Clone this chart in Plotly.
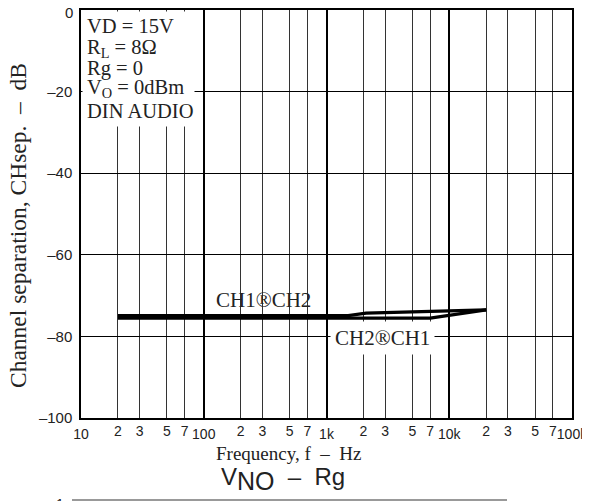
import plotly.graph_objects as go

# data
freq_ch1 = [20, 1500, 2100, 20000]
sep_ch1 = [-74.9, -74.9, -74.3, -73.5]
freq_ch2 = [20, 7000, 20000]
sep_ch2 = [-75.5, -75.5, -73.5]

minor_vals = [m * d for d in (10, 100, 1000, 10000) for m in (2, 3, 5, 7)]
minor_text = [str(m) for d in (10, 100, 1000, 10000) for m in (2, 3, 5, 7)]
decade_vals = [10, 100, 1000, 10000, 100000]
decade_text = ["10", "100", "1k", "10k", "100k"]
y_vals = [0, -20, -40, -60, -80, -100]
# the top "0" sits a little below its line in the reference, drawn separately below
y_text = ["", "\u201320", "\u201340", "\u201360", "\u201380", "\u2013100"]

conditions = ["VD = 15V", "R<sub>L</sub> = 8\u03a9", "Rg = 0",
              "V<sub>O</sub> = 0dBm", "DIN AUDIO"]

SANS = "Liberation Sans, Arial, sans-serif"
SERIF = "Liberation Serif, Times New Roman, serif"

# the page adds an 8px body margin, so the figure is 8px smaller than the window
W, H, OFF = 582, 493, 8
# plot area in page pixels: x 81..572, y 10..418
L, R, T, B = 81, 572, 10, 418
def px(x):
    return (x - L) / (R - L)
def py(y):
    return (B - y) / (B - T)

def note(text, x, y, **kw):
    kw.setdefault("xanchor", "center")
    kw.setdefault("yanchor", "middle")
    fig.add_annotation(text=text, xref="paper", yref="paper", x=px(x), y=py(y),
                       showarrow=False, **kw)

fig = go.Figure()
fig.add_trace(go.Scatter(x=freq_ch1, y=sep_ch1, mode="lines",
                         line=dict(color="black", width=3.2), showlegend=False))
# second curve sits on the decade axis (same range) so that axis gets drawn
fig.add_trace(go.Scatter(x=freq_ch2, y=sep_ch2, mode="lines", xaxis="x2",
                         line=dict(color="black", width=3.2), showlegend=False))

# white block behind the condition text (covers the grid there)
note(" ", 82, 11, xanchor="left", yanchor="top", width=111, height=114,
     bgcolor="white", borderpad=0)

baselines = [26, 48, 68, 88, 111]
for txt, yb in zip(conditions, baselines):
    note(txt, 85, yb, xanchor="left", font=dict(family=SERIF, size=20.5, color="#222"))

note("CH1\u00aeCH2", 263, 300, font=dict(family=SERIF, size=21, color="#222"))
note("CH2\u00aeCH1", 382, 338, bgcolor="white", borderpad=4,
     font=dict(family=SERIF, size=21, color="#222"))

# axis titles and surrounding page text
note("0", 69, 13, font=dict(family=SANS, size=15, color="#222"))
note("Channel separation, CHsep.  \u2013  dB", 18, 226, textangle=-90,
     font=dict(family=SERIF, size=23.5, color="#222"))
note("Frequency, f  \u2013  Hz", 288, 454, font=dict(family=SERIF, size=19, color="#222"))
note("V<sub><span style='font-size:25px'>NO</span></sub>  \u2013  Rg", 283, 479,
     font=dict(family=SANS, size=24, color="#222"))
note("CHsep  \u2013  f", 246, 11, xanchor="left", yanchor="bottom",
     font=dict(family=SANS, size=26, color="#222"))
note("1", 60, 504, font=dict(family=SANS, size=14, color="#222"))
fig.add_shape(type="line", xref="paper", yref="paper",
              x0=px(72), x1=px(507), y0=py(500), y1=py(500),
              line=dict(color="#777", width=1.5))

fig.update_layout(
    width=W, height=H,
    margin=dict(l=L - OFF, r=W - (R - OFF), t=T - OFF, b=H - (B - OFF), pad=0,
                autoexpand=False),
    paper_bgcolor="white", plot_bgcolor="white",
    showlegend=False,
    xaxis=dict(type="log", range=[1, 5], tickmode="array",
               tickvals=minor_vals, ticktext=minor_text, automargin=False,
               showgrid=True, gridcolor="#333", gridwidth=1,
               showline=True, mirror=True, linecolor="black", linewidth=1.5,
               ticks="", ticklabelstandoff=-1,
               tickfont=dict(family=SANS, size=14, color="#222"), zeroline=False),
    xaxis2=dict(type="log", range=[1, 5], overlaying="x", side="bottom",
                anchor="y", tickmode="array", automargin=False,
                tickvals=decade_vals, ticktext=decade_text,
                showgrid=True, gridcolor="black", gridwidth=1.8,
                ticks="", ticklabelstandoff=6, ticklabeloverflow="allow",
                tickfont=dict(family=SANS, size=14, color="#222"), zeroline=False),
    yaxis=dict(range=[-100, 0], tickmode="array", tickvals=y_vals, ticktext=y_text,
               showgrid=True, gridcolor="black", gridwidth=1, automargin=False,
               showline=True, mirror=True, linecolor="black", linewidth=1.5,
               ticks="", ticklabelstandoff=4, zeroline=False,
               tickfont=dict(family=SANS, size=15, color="#222")),
)

fig.write_html("out.html")
